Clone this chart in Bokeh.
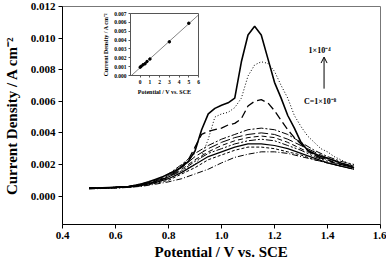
import numpy as np
from bokeh.plotting import figure
from bokeh.layouts import column
from bokeh.models import (Range1d, Arrow, OpenHead, Label, Whisker, ColumnDataSource, FixedTicker,
                          CustomJSTickFormatter)
from bokeh.embed import file_html
from bokeh.resources import INLINE

# ---------------- data ----------------
x_fine = [0.5, 0.525, 0.55, 0.575, 0.6, 0.625, 0.65, 0.675, 0.7, 0.725, 0.75, 0.775, 0.8, 0.825,
          0.85, 0.875, 0.9, 0.925, 0.95, 0.975, 1.0, 1.025, 1.05, 1.075, 1.1, 1.125, 1.15, 1.175,
          1.2, 1.225, 1.25, 1.275, 1.3, 1.325, 1.35, 1.375, 1.4, 1.425, 1.45, 1.475, 1.5]
c1 = [0.00050, 0.00050, 0.00052, 0.00054, 0.00056, 0.00058, 0.00060, 0.00068, 0.00078, 0.00090,
      0.00105, 0.00120, 0.00140, 0.00160, 0.00185, 0.00220, 0.00285, 0.00420, 0.00520, 0.00555,
      0.00575, 0.00590, 0.00620, 0.00850, 0.01020, 0.01075, 0.01020, 0.00870, 0.00720, 0.00620,
      0.00510, 0.00430, 0.00340, 0.00290, 0.00270, 0.00250, 0.00240, 0.00225, 0.00210, 0.00195,
      0.00180]
c2 = [0.00050, 0.00050, 0.00052, 0.00054, 0.00056, 0.00058, 0.00060, 0.00066, 0.00074, 0.00084,
      0.00096, 0.00110, 0.00125, 0.00140, 0.00160, 0.00180, 0.00200, 0.00250, 0.00360, 0.00500,
      0.00520, 0.00530, 0.00560, 0.00620, 0.00760, 0.00830, 0.00850, 0.00840, 0.00790, 0.00700,
      0.00620, 0.00510, 0.00440, 0.00380, 0.00340, 0.00300, 0.00280, 0.00250, 0.00230, 0.00210,
      0.00190]
c3 = [0.00050, 0.00050, 0.00052, 0.00054, 0.00056, 0.00058, 0.00060, 0.00065, 0.00072, 0.00080,
      0.00090, 0.00105, 0.00120, 0.00150, 0.00190, 0.00230, 0.00310, 0.00390, 0.00410, 0.00420,
      0.00430, 0.00450, 0.00460, 0.00490, 0.00570, 0.00600, 0.00610, 0.00590, 0.00540, 0.00480,
      0.00420, 0.00370, 0.00330, 0.00290, 0.00260, 0.00240, 0.00230, 0.00210, 0.00200, 0.00190,
      0.00180]

x_coarse = [0.5, 0.55, 0.6, 0.65, 0.7, 0.75, 0.8, 0.85, 0.9, 0.95, 1.0, 1.05, 1.1, 1.15, 1.2,
            1.25, 1.3, 1.35, 1.4, 1.45, 1.5]
c4 = [0.00050, 0.00052, 0.00056, 0.00062, 0.00078, 0.00100, 0.00140, 0.00200, 0.00270, 0.00320,
      0.00360, 0.00390, 0.00420, 0.00430, 0.00420, 0.00390, 0.00340, 0.00290, 0.00250, 0.00220,
      0.00200]
c5 = [0.00050, 0.00052, 0.00055, 0.00060, 0.00075, 0.00095, 0.00130, 0.00180, 0.00250, 0.00300,
      0.00340, 0.00370, 0.00390, 0.00400, 0.00390, 0.00360, 0.00320, 0.00280, 0.00240, 0.00210,
      0.00190]
c6 = [0.00050, 0.00051, 0.00054, 0.00059, 0.00072, 0.00092, 0.00120, 0.00170, 0.00230, 0.00280,
      0.00320, 0.00350, 0.00370, 0.00380, 0.00370, 0.00340, 0.00300, 0.00260, 0.00230, 0.00200,
      0.00180]
c7 = [0.00049, 0.00051, 0.00054, 0.00058, 0.00070, 0.00090, 0.00120, 0.00160, 0.00220, 0.00270,
      0.00300, 0.00330, 0.00350, 0.00360, 0.00350, 0.00320, 0.00290, 0.00250, 0.00220, 0.00200,
      0.00180]
c8 = [0.00048, 0.00050, 0.00053, 0.00057, 0.00068, 0.00085, 0.00110, 0.00150, 0.00200, 0.00250,
      0.00280, 0.00310, 0.00330, 0.00330, 0.00320, 0.00300, 0.00270, 0.00240, 0.00210, 0.00190,
      0.00170]
c9 = [0.00047, 0.00049, 0.00052, 0.00056, 0.00065, 0.00080, 0.00100, 0.00140, 0.00180, 0.00230,
      0.00260, 0.00290, 0.00310, 0.00310, 0.00300, 0.00280, 0.00260, 0.00230, 0.00210, 0.00190,
      0.00170]
c10 = [0.00045, 0.00048, 0.00050, 0.00055, 0.00062, 0.00075, 0.00090, 0.00110, 0.00140, 0.00170,
       0.00210, 0.00245, 0.00265, 0.00280, 0.00280, 0.00270, 0.00250, 0.00230, 0.00210, 0.00190,
       0.00170]

# inset calibration data
inset_x = [0.0, 0.1, 0.3, 0.5, 0.7, 1.0, 3.0, 5.0]
inset_y = [0.00094, 0.00104, 0.00122, 0.00133, 0.00158, 0.00186, 0.00380, 0.00590]
inset_err = [0.00003, 0.00003, 0.00003, 0.00003, 0.00003, 0.00004, 0.00012, 0.00012]

x_ticks = [0.4, 0.6, 0.8, 1.0, 1.2, 1.4, 1.6]
y_ticks = [0.0, 0.002, 0.004, 0.006, 0.008, 0.010, 0.012]
inset_x_ticks = [0, 1, 2, 3, 4, 5, 6]
inset_y_ticks = [0.0, 0.001, 0.002, 0.003, 0.004, 0.005, 0.006, 0.007]

FONT = "Liberation Serif"

# ---------------- main figure ----------------
p = figure(width=386, height=262, output_backend="svg", toolbar_location=None,
           x_range=Range1d(0.4, 1.6), y_range=Range1d(-0.0018, 0.012),
           min_border_left=62, min_border_right=6, min_border_top=6, min_border_bottom=36)
p.xgrid.visible = False
p.ygrid.visible = False
p.outline_line_color = "#777777"
p.background_fill_color = "white"

for ax, ticks in ((p.xaxis[0], x_ticks), (p.yaxis[0], y_ticks)):
    ax.ticker = FixedTicker(ticks=ticks)
    ax.minor_tick_line_color = None
    ax.major_tick_in = 0
    ax.major_tick_out = 4
    ax.axis_line_color = "black"
    ax.major_tick_line_color = "black"
    ax.major_label_text_font = FONT
    ax.major_label_text_font_style = "bold"
    ax.major_label_text_font_size = "11px"
    ax.major_label_text_color = "black"
    ax.axis_label_text_font = FONT
    ax.axis_label_text_font_style = "bold"
    ax.axis_label_text_font_size = "15px"
    ax.axis_label_text_color = "black"
    ax.major_label_standoff = 3
    ax.axis_label_standoff = 2
p.yaxis[0].axis_label_standoff = 8

p.yaxis[0].formatter = CustomJSTickFormatter(code="return tick.toFixed(3);")
p.xaxis[0].formatter = CustomJSTickFormatter(code="return tick.toFixed(1);")
p.xaxis.axis_label = "Potential / V vs. SCE"
p.yaxis.axis_label = "Current Density / A cm\u207B\u00B2"

p.line(x_fine, c1, line_color="black", line_width=1.6)
p.line(x_fine, c2, line_color="black", line_width=1.0, line_dash="1 2")
p.line(x_fine, c3, line_color="black", line_width=1.3, line_dash="8 4")
p.line(x_coarse, c4, line_color="black", line_width=1.0, line_dash="7 2 2 2")
p.line(x_coarse, c5, line_color="black", line_width=1.0, line_dash="10 3")
p.line(x_coarse, c6, line_color="black", line_width=1.0, line_dash="5 3")
p.line(x_coarse, c7, line_color="black", line_width=1.0, line_dash="7 2 2 2 2 2")
p.line(x_coarse, c8, line_color="black", line_width=1.2)
p.line(x_coarse, c9, line_color="black", line_width=1.0, line_dash="3 2")
p.line(x_coarse, c10, line_color="black", line_width=1.0, line_dash="6 2 1 2")

# annotations
ANN_X = 1.37
p.add_layout(Label(x=ANN_X, y=0.0092, text="1\u00D710\u207B\u2074", text_font=FONT,
                   text_font_style="bold", text_font_size="8px", text_align="center",
                   text_baseline="middle", text_color="black"))
p.add_layout(Label(x=ANN_X + 0.002, y=0.0060, text="C=1\u00D710\u207B\u2078", text_font=FONT,
                   text_font_style="bold", text_font_size="8px", text_align="center",
                   text_baseline="middle", text_color="black"))
p.add_layout(Arrow(x_start=ANN_X + 0.017, y_start=0.0068, x_end=ANN_X + 0.017, y_end=0.0088,
                   line_width=1, line_color="black",
                   end=OpenHead(size=6, line_width=1, line_color="black")))

# ---------------- inset ----------------
inset = figure(width=136, height=86, output_backend="svg", toolbar_location=None,
               x_range=Range1d(-1, 6), y_range=Range1d(0, 0.007),
               min_border_left=30, min_border_right=2, min_border_top=2, min_border_bottom=19,
               styles={"position": "absolute", "left": "68px", "top": "11px"})
inset.xgrid.visible = False
inset.ygrid.visible = False
inset.outline_line_color = "#555555"
inset.border_fill_alpha = 0
inset.background_fill_color = "white"
for ax, ticks in ((inset.xaxis[0], inset_x_ticks), (inset.yaxis[0], inset_y_ticks)):
    ax.ticker = FixedTicker(ticks=ticks)
    ax.minor_tick_line_color = None
    ax.major_tick_in = 0
    ax.major_tick_out = 2
    ax.axis_line_color = "#555555"
    ax.major_tick_line_color = "#555555"
    ax.major_label_text_font = FONT
    ax.major_label_text_font_style = "bold"
    ax.major_label_text_font_size = "5.5px"
    ax.major_label_text_color = "black"
    ax.axis_label_text_font = FONT
    ax.axis_label_text_font_style = "bold"
    ax.axis_label_text_font_size = "6px"
    ax.axis_label_text_color = "black"
    ax.major_label_standoff = 2
    ax.axis_label_standoff = 2
inset.yaxis[0].formatter = CustomJSTickFormatter(code="return tick.toFixed(3);")
inset.xaxis.axis_label = "Potential / V vs. SCE"
inset.yaxis.axis_label = "Current Density / A cm\u207B\u00B2"

slope, intercept = np.polyfit(inset_x, inset_y, 1)
fit_x = [inset.x_range.start, inset.x_range.end]
fit_y = [slope * v + intercept for v in fit_x]
inset.line(fit_x, fit_y, line_color="#666666", line_width=0.8)
src = ColumnDataSource(dict(x=inset_x, y=inset_y,
                            lo=[a - b for a, b in zip(inset_y, inset_err)],
                            hi=[a + b for a, b in zip(inset_y, inset_err)]))
inset.add_layout(Whisker(source=src, base="x", lower="lo", upper="hi", line_color="black",
                         line_width=0.8, upper_head=None, lower_head=None))
inset.scatter("x", "y", source=src, size=2.5, color="black")

layout = column(p, inset, styles={"position": "relative"})

open("out.html", "w").write(file_html(layout, INLINE))
